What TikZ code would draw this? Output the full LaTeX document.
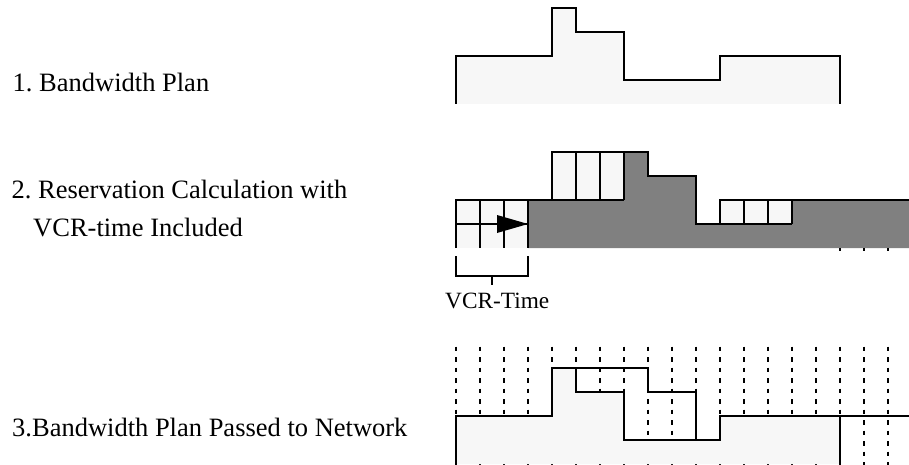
\documentclass[tikz,border=0pt]{standalone}
\usepackage{fontspec}
\setmainfont{Liberation Serif}
\definecolor{lightfill}{HTML}{F7F7F7}
\definecolor{darkfill}{HTML}{808080}
\tikzset{
  outline/.style={line width=2.9pt, line join=miter},
  cellline/.style={line width=2.3pt},
  gridline/.style={line width=2.2pt, dash pattern=on 4.5pt off 6pt},
  lbl/.style={anchor=base west, inner sep=0pt, font=\fontsize{26.5}{30}\selectfont},
  smalllbl/.style={anchor=base west, inner sep=0pt, font=\fontsize{23.3}{26}\selectfont}
}
\frenchspacing
\begin{document}
\begin{tikzpicture}[x=1pt,y=-1pt]
\useasboundingbox (0,0) rectangle (909,465);

% labels
\node[lbl] (l1) at (12.5,92) {1. Bandwidth Plan};
\node[lbl] (l2a) at (11.5,198.3) {2. Reservation Calculation with};
\node[lbl] (l2b) at (33,236.7) {VCR-time Included};
\node[lbl] (l3) at (12,436.7) {3.Bandwidth Plan Passed to Network};

% ---------- panel 1 ----------
\fill[lightfill] (456,104) -- (456,56) -- (552,56) -- (552,8) -- (576,8) -- (576,32) -- (624,32) -- (624,80) -- (720,80) -- (720,56) -- (840,56) -- (840,104) -- cycle;
\draw[outline] (456,104) -- (456,56) -- (552,56) -- (552,8) -- (576,8) -- (576,32) -- (624,32) -- (624,80) -- (720,80) -- (720,56) -- (840,56) -- (840,104);

% ---------- panel 2 ----------
\fill[darkfill] (528,248) -- (528,200) -- (624,200) -- (624,152) -- (648,152) -- (648,176) -- (696,176) -- (696,224) -- (792,224) -- (792,200) -- (909,200) -- (909,248) -- cycle;
\fill[lightfill] (456,200) rectangle (528,248);
\fill[lightfill] (552,152) rectangle (624,200);
\fill[lightfill] (720,200) rectangle (792,224);
% cells
\foreach \x in {480,504,528} \draw[cellline] (\x,200) -- (\x,248);
\draw[cellline] (456,224) -- (528,224);
\foreach \x in {576,600,624} \draw[cellline] (\x,152) -- (\x,200);
\draw[cellline] (552,200) -- (624,200);
\foreach \x in {744,768,792} \draw[cellline] (\x,200) -- (\x,224);
\draw[cellline] (720,224) -- (792,224);
% outline
\draw[outline] (456,248) -- (456,200) -- (552,200) -- (552,152) -- (648,152) -- (648,176) -- (696,176) -- (696,224) -- (720,224) -- (720,200) -- (909,200);
% arrow head
\fill (497,215) -- (528,224) -- (497,233) -- cycle;
% tiny ticks below
\foreach \x in {840,864,888} \draw[line width=1.5pt] (\x,248) -- (\x,250.5);
% bracket
\coordinate (bl) at (456,256);
\coordinate (br) at (528,256);
\draw[cellline] (bl) -- (456,276) -- (528,276) -- (br);
\draw[cellline] (492,276) -- (492,285);
\node[smalllbl] (vcr) at (445,308.3) {VCR-Time};

% ---------- panel 3 ----------
\foreach \k in {0,...,18} \draw[gridline] ({456+24*\k},346.5) -- ({456+24*\k},465);
\fill[lightfill] (456,464) -- (456,416) -- (552,416) -- (552,368) -- (576,368) -- (576,392) -- (624,392) -- (624,440) -- (720,440) -- (720,416) -- (840,416) -- (840,464) -- cycle;
\draw[outline] (456,465) -- (456,416) -- (552,416) -- (552,368) -- (576,368) -- (576,392) -- (624,392) -- (624,440) -- (720,440) -- (720,416) -- (909,416);
\draw[outline] (840,416) -- (840,465);
\draw[outline] (576,368) -- (648,368) -- (648,392) -- (696,392) -- (696,440);
\end{tikzpicture}
\end{document}
